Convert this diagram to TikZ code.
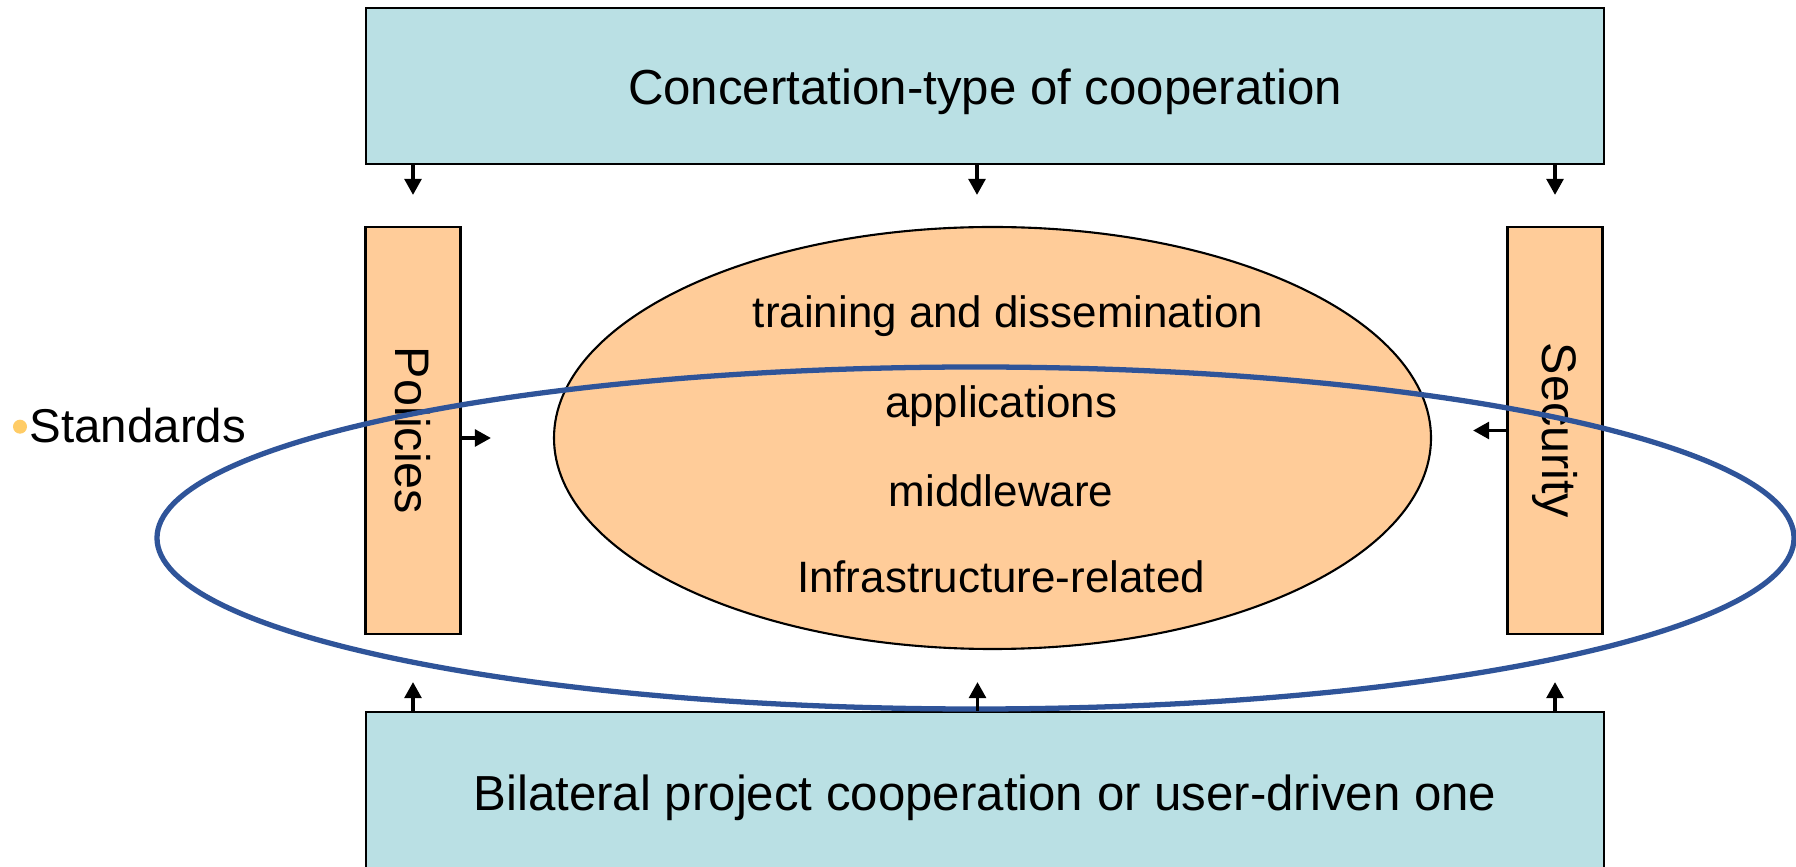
\documentclass[tikz,border=0pt]{standalone}
\usepackage{fontspec}
\setmainfont{Liberation Sans}
\usepackage{graphicx}
\usepackage{xcolor}
\usepackage{tikz}
\usetikzlibrary{positioning,shapes.geometric,arrows.meta}
\definecolor{CoopBlue}{RGB}{186,224,228}
\definecolor{LayerPeach}{RGB}{255,204,153}
\definecolor{RingBlue}{RGB}{47,84,153}
\definecolor{BulletGold}{RGB}{255,204,102}
\tikzset{
    coopbox/.style={rectangle, draw=black, fill=CoopBlue, line width=0.6pt, minimum width=12.38cm, inner sep=0pt, text height=10.6pt, text depth=0pt, font=\fontsize{14}{17}\selectfont},
    sidebar/.style={rectangle, draw=black, fill=LayerPeach, line width=0.6pt, minimum width=0.95cm, minimum height=4.07cm, inner sep=0pt, font=\fontsize{13.8}{16}\selectfont},
    layer/.style={anchor=base, inner sep=0pt, font=\fontsize{12.5}{15}\selectfont},
    flow/.style={draw=black, line width=1pt, -{Triangle[width=4.8pt,length=4.6pt]}}
}

\begin{document}
\begin{tikzpicture}[
                core/.style={
                    ellipse,
                    draw=black,
                    fill=LayerPeach,
                    line width=0.6pt,
                    minimum width=8.77cm,
                    minimum height=4.22cm,
                    inner sep=0pt
                },
                ring/.style={ellipse, draw=RingBlue, line width=1.5pt, minimum width=16.37cm, minimum height=3.42cm, inner sep=0pt}
            ]
                \useasboundingbox (0,0) rectangle (17.96,8.66);
                \clip (0,0) rectangle (17.96,8.66);

                \node[coopbox, minimum height=1.56cm] (concert) at (9.85, 7.80) {Concertation-type of cooperation};
                \node[coopbox, minimum height=1.60cm] (bilateral) at (9.85, 0.74) {Bilateral project cooperation or user-driven one};
                \node[sidebar] (policies) at (4.13, 4.355) {\rotatebox{-90}{Policies}};
                \node[sidebar] (security) at (15.55, 4.355) {\rotatebox{-90}{Security}};
                \node[core] (layers) at (9.925, 4.28) {};

                \node[layer] (training) at (10.08, 5.38) {training and dissemination};
                \node[layer] (apps) at (10.01, 4.48) {applications};
                \node[layer] (middle) at (10.01, 3.593) {middleware};
                \node[layer] (infra) at (10.01, 2.733) {Infrastructure-related};

                \node[ring] (standardring) at (9.755, 3.28) {};

                \coordinate (midtop) at ([xshift=-0.08cm]concert.south);
                \coordinate (midbot) at ([xshift=-0.075cm]bilateral.north);

                \draw[flow, shorten >=0.31cm] (policies.north |- concert.south) -- (policies.north);
                \draw[flow, shorten >=0.31cm] (midtop) -- (midtop |- layers.north);
                \draw[flow, shorten >=0.31cm] (security.north |- concert.south) -- (security.north);
                \draw[flow, shorten >=0.47cm] (policies.south |- bilateral.north) -- (policies.south);
                \draw[flow, shorten >=0.32cm] (midbot) -- (midbot |- layers.south);
                \draw[flow, shorten >=0.47cm] (security.south |- bilateral.north) -- (security.south);
                \draw[flow, shorten >=0.62cm] (policies.east |- layers.west) -- (layers.west);
                \draw[flow, shorten >=0.41cm] (security.west) -- (security.west -| layers.east);

                \node[circle, fill=BulletGold, inner sep=0pt, minimum size=0.14cm] (bullet) at (0.20, 4.393) {};
                \node[anchor=base west, inner sep=0pt, font=\fontsize{13.5}{16}\selectfont] (standards) at (0.29, 4.23) {Standards};
            \end{tikzpicture}
\end{document}
